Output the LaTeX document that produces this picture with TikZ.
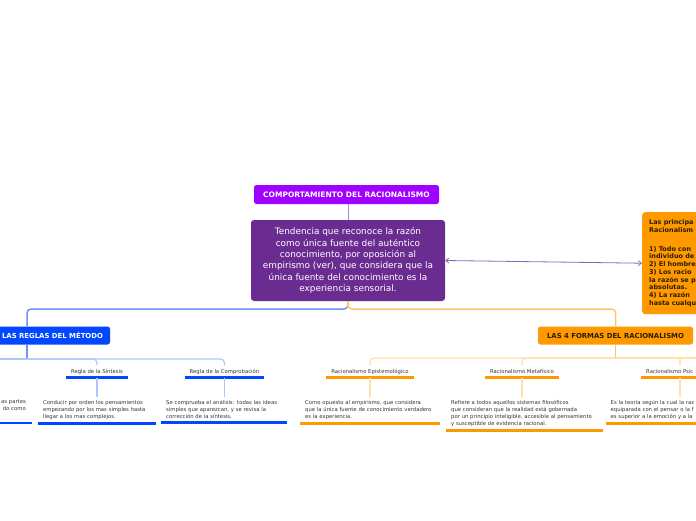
\documentclass[tikz,border=0pt]{standalone}
\usepackage{fontspec}
\setmainfont{DejaVu Sans}
\usetikzlibrary{arrows.meta}
\definecolor{violetc}{HTML}{A000FF}
\definecolor{purplec}{HTML}{6B2C91}
\definecolor{bluec}{HTML}{0047FF}
\definecolor{orangec}{HTML}{FF9900}
\definecolor{blinea}{HTML}{6F92FF}
\definecolor{blineb}{HTML}{AFC3FF}
\definecolor{olinea}{HTML}{FFC46A}
\definecolor{olineb}{HTML}{FFDFAA}
\definecolor{arrc}{HTML}{8A66B8}
\definecolor{topc}{HTML}{A98BC8}
\definecolor{txtc}{HTML}{333333}
\definecolor{darkc}{HTML}{2A1E00}
\newcommand{\sfnt}{\fontsize{5.3}{7}\selectfont}
\begin{document}
\begin{tikzpicture}[x=1pt,y=-1pt,
  topbox/.style={fill=violetc, rounded corners=2.5pt, text=white,
    font=\bfseries\fontsize{7.5}{8}\selectfont, minimum width=185pt,
    minimum height=19pt, inner sep=0pt},
  mainbox/.style={fill=purplec, rounded corners=3pt, text=white,
    font=\fontsize{8.9}{11.3}\selectfont, minimum width=194pt,
    minimum height=81pt, align=center, inner sep=0pt},
  hbox/.style={rounded corners=2.5pt, font=\bfseries\fontsize{6.9}{8}\selectfont,
    minimum height=18pt, inner sep=0pt},
  slab/.style={font=\sfnt, text=txtc, inner xsep=5pt, inner ysep=0pt,
    minimum height=12pt},
  sdesc/.style={font=\sfnt, text=txtc, inner xsep=5pt, inner ysep=3pt,
    align=left, anchor=north west},
  bl1/.style={draw=blinea, line width=1.5pt, rounded corners=4pt},
  bl2/.style={draw=blineb, line width=1.2pt, rounded corners=4pt},
  ol1/.style={draw=olinea, line width=1.5pt, rounded corners=4pt},
  ol2/.style={draw=olineb, line width=1.2pt, rounded corners=4pt},
  bu/.style={draw=bluec, line width=2.8pt},
  ou/.style={draw=orangec, line width=2.8pt},
  arr/.style={draw=arrc, line width=0.8pt,
    {Straight Barb[length=3pt,width=5pt]}-{Straight Barb[length=3pt,width=5pt]}}
]
\useasboundingbox (0,0) rectangle (696,520);
\clip (0,0) rectangle (696,520);

% main nodes
\node[topbox] (top) at (346.5,194.5) {COMPORTAMIENTO DEL RACIONALISMO};
\node[mainbox] (main) at (348,260.5) {Tendencia que reconoce la razón\\como única fuente del auténtico\\conocimiento, por oposición al\\empirismo (ver), que considera que la\\única fuente del conocimiento es la\\experiencia sensorial.};
\node[fill=orangec, rounded corners=3pt, anchor=north west, text=darkc,
  font=\bfseries\fontsize{6.5}{7.7}\selectfont, text width=100pt,
  inner xsep=7pt, align=left, minimum height=102pt] (car) at (642,212)
  {Las principa\\Racionalism\\[11pt]1) Todo con\\individuo de\\2) El hombre\\3) Los racio\\la razón se p\\absolutas.\\4) La razón\\hasta cualqu};

\draw[draw=topc, line width=1pt] (main.north) -- (main.north |- top.south);
\draw[arr] (main.east) -- (car.west);

% headings
\node[hbox, fill=bluec, text=white, minimum width=115pt] (reg) at (52.5,335.5) {LAS REGLAS DEL MÉTODO};
\node[hbox, fill=orangec, text=darkc, minimum width=155pt] (form) at (615.5,335.5) {LAS 4 FORMAS DEL RACIONALISMO};

\coordinate (mj) at (348,309);
\coordinate (regin) at (27,326.5);
\draw[bl1] (main.south) -- (mj) -| (regin);
\draw[ol1] (main.south) -- (mj) -| (form.north);
\draw[draw=olinea, line width=1.5pt] (main.south) -- ([yshift=-7pt]main.south);

% blue branch
\coordinate (regout) at (27,344.5);
\coordinate (bj) at (27,359);
\coordinate (bleft) at (-5,359);
\draw[bl1] (regout) -- (bj);

\node[slab] (sint) at (97,371.5) {Regla de la Síntesis};
\node[slab] (comp) at (224.5,371.5) {Regla de la Comprobación};
\draw[bl2] (bj) -| (sint.north);
\draw[bl2] (bj) -| (comp.north);
\draw[bl2] (bj) -- (bleft);
\draw[bu] (sint.south west) -- (sint.south east);
\draw[bu] (comp.south west) -- (comp.south east);

\node[sdesc, text width=108pt] (sintd) at (38,397) {Conducir por orden los pensamientos\\empezando por los mas simples hasta\\llegar a los mas complejos.};
\node[sdesc, text width=116pt] (compd) at (161,397) {Se comprueba el análisis: todas las ideas\\simples que aparezcan, y se revisa la\\corrección de la síntesis.};
\draw[bl2] (sint.south) -- (sint.south |- sintd.north);
\draw[bl2] (comp.south) -- (comp.south |- compd.north);
\draw[bu] ([yshift=-0.8pt]sintd.south west) -- ([yshift=-0.8pt]sintd.south east);
\draw[bu] ([yshift=-0.8pt]compd.south west) -- ([yshift=-0.8pt]compd.south east);

\node[font=\sfnt, text=txtc, inner sep=0pt, anchor=north east, align=right] (lfrag) at (26,400) {as partes\\do como};
\coordinate (lul) at (-5,423);
\coordinate (lur) at (32,423);
\draw[bu] (lul) -- (lur);

% orange branch
\coordinate (oj) at (615.5,358);
\coordinate (oright) at (710,358);
\coordinate (psx) at (680,358);
\draw[ol1] (form.south) -- (oj);

\node[slab] (epi) at (370,371.5) {Racionalismo Epistemológico};
\node[slab] (met) at (522,371.5) {Racionalismo Metafísico};
\node[slab, anchor=west, text width=80pt, align=left] (psi) at (641,371.5) {Racionalismo Psic};
\draw[ol2] (oj) -| (epi.north);
\draw[ol2] (oj) -| (met.north);
\draw[ol2] (oj) -- (oright);
\draw[ol2] (psx) -- (psx |- psi.north);
\draw[ou] (epi.south west) -- (epi.south east);
\draw[ou] (met.south west) -- (met.south east);
\draw[ou] (psi.south west) -- (psi.south east);

\node[sdesc, text width=130pt] (epid) at (300,397) {Como opuesto al empirismo, que considera\\que la única fuente de conocimiento verdadero\\es la experiencia.};
\node[sdesc, text width=147pt] (metd) at (446,397) {Refiere a todos aquellos sistemas filosóficos\\que consideran que la realidad está gobernada\\por un principio inteligible, accesible al pensamiento\\y susceptible de evidencia racional.};
\node[sdesc, text width=110pt] (psid) at (605.5,397) {Es la teoría según la cual la raz\\equiparada con el pensar o la f\\es superior a la emoción y a la};
\draw[ol2] (epi.south) -- (epi.south |- epid.north);
\draw[ol2] (met.south) -- (met.south |- metd.north);
\draw[ol2] (psx |- psi.south) -- (psx |- psid.north);
\draw[ou] ([yshift=-0.8pt]epid.south west) -- ([yshift=-0.8pt]epid.south east);
\draw[ou] ([yshift=-0.8pt]metd.south west) -- ([yshift=-0.8pt]metd.south east);
\draw[ou] ([yshift=-0.8pt]psid.south west) -- ([yshift=-0.8pt]psid.south east);
\end{tikzpicture}
\end{document}
